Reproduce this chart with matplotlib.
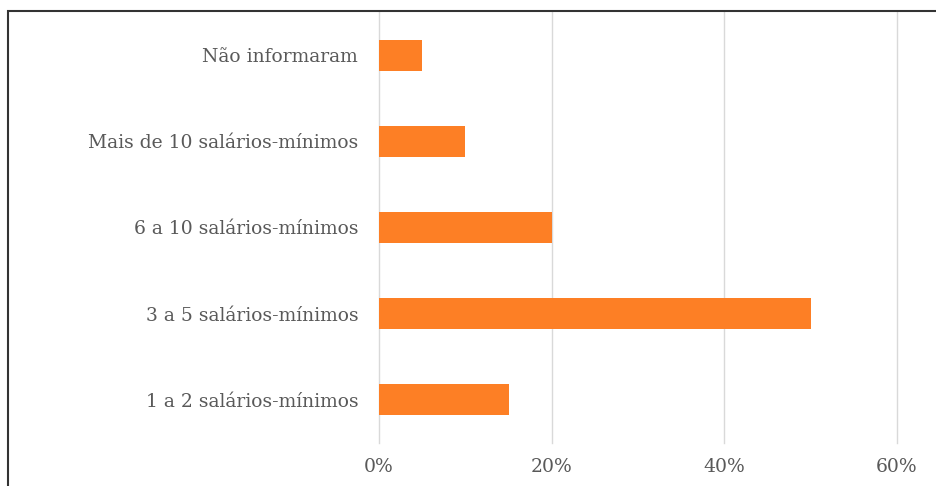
import matplotlib.pyplot as plt
from matplotlib.patches import Rectangle
from matplotlib.ticker import FuncFormatter

categories = ["1 a 2 salários-mínimos", "3 a 5 salários-mínimos", "6 a 10 salários-mínimos",
              "Mais de 10 salários-mínimos", "Não informaram"]
values = [0.15, 0.50, 0.20, 0.10, 0.05]
xticks = [0, 0.2, 0.4, 0.6]

plt.rcParams['font.family'] = ['DejaVu Serif']

fig = plt.figure(figsize=(9.36, 4.86), dpi=100)
ax = fig.add_axes([379 / 936, 1 - 443 / 486, (897 - 379) / 936, (443 - 12) / 486])

ax.barh(range(len(categories)), values, height=0.36, color="#fd7f25", zorder=3)
ax.set_xlim(0, 0.6)
ax.set_ylim(-0.5, len(categories) - 0.5)
ax.set_yticks(range(len(categories)))
ax.set_yticklabels(categories)
ax.set_xticks(xticks)
ax.xaxis.set_major_formatter(FuncFormatter(lambda v, p: f"{v * 100:.0f}%"))
ax.tick_params(axis="both", length=0, labelsize=13.5, colors="#595959")
ax.tick_params(axis="x", pad=11)
ax.tick_params(axis="y", pad=15)
ax.grid(axis="x", color="#d9d9d9", linewidth=1, zorder=0)
for line in ax.get_xgridlines():
    line.set_clip_on(False)
for s in ax.spines.values():
    s.set_visible(False)

# outer frame (cropped at right and bottom)
fig.patches.append(Rectangle((8 / 936, -0.05), 1.0, 1 - 11 / 486 + 0.05,
                             transform=fig.transFigure, fill=False,
                             edgecolor="#333333", linewidth=1.5))

fig.savefig("out.png", dpi=100)
